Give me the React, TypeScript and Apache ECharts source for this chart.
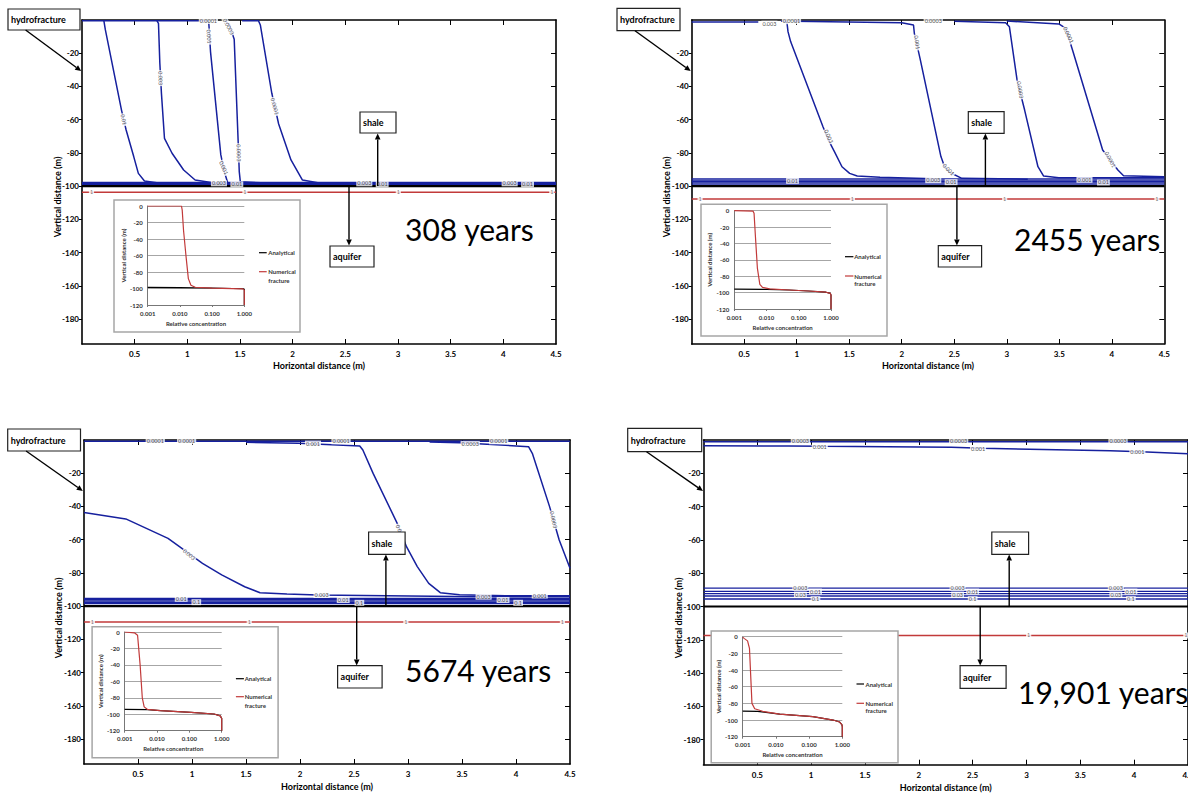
import React, { useEffect, useRef } from "react";
import * as echarts from "echarts";

type Pt = [number, number];
type Lbl = [string, number, number, number];

const FONT = 'Lato, "Open Sans", "DejaVu Sans", sans-serif';
const BLUE = "#16209e";
const RED = "#c23a3a";

// ---------- axis ticks ----------
const xTickValues = [0.5, 1, 1.5, 2, 2.5, 3, 3.5, 4];
const xLabelValues = [0.5, 1, 1.5, 2, 2.5, 3, 3.5, 4, 4.5];
const yTickValues = [-20, -40, -60, -80, -100, -120, -140, -160, -180];
const yearLabels = ["308 years", "2455 years", "5674 years", "19,901 years"];
const interfaceDepth = -100;

// ---------- panel 1 (308 years) ----------
const p1Contours: Pt[][] = [
  [[0, -0.4], [0.2075, -0.4], [0.222, -6], [0.375, -54.2], [0.419, -66.2], [0.491, -82.2], [0.535, -92.3], [0.593, -96.9], [0.71, -98], [1.04, -98.3]],
  [[0.2075, -0.4], [0.71, -0.4], [0.726, -2], [0.739, -26], [0.754, -44], [0.783, -71.2], [0.855, -80.2], [0.965, -90.3], [1.074, -96.3], [1.256, -98.1], [1.6, -98.4]],
  [[0.71, -0.4], [1.201, -0.4], [1.205, -3], [1.22, -19], [1.318, -81.2], [1.35, -91], [1.383, -97.9], [1.7, -98.4]],
  [[1.36, -0.4], [1.4, -3], [1.445, -11.6], [1.482, -72.2], [1.493, -91.3], [1.503, -97.3], [1.7, -98]],
  [[1.52, -0.4], [1.675, -0.4], [1.693, -3], [1.802, -44.1], [1.867, -62.6], [1.984, -84.2], [2.093, -96.3], [2.239, -97.9], [4.5, -98.2]],
];
const p1BandLevels = [-97.8, -98.4, -99, -99.5];
const p1RedDepth = -103.7;
const p1RedLabelX = [0.09, 1.547, 3.003, 4.46];
const p1Labels: Lbl[] = [
  ["0.01", 0.395, -60, -77], ["0.003", 0.745, -35, -88],
  ["0.001", 1.205, -10, -86], ["0.001", 1.345, -89, -66],
  ["0.0003", 1.39, -4, -62], ["0.0003", 1.488, -80, -89],
  ["0.0001", 1.83, -52, -75], ["0.0001", 1.2, -0.6, 0],
  ["0.003", 1.30, -98.3, 0], ["0.01", 1.47, -98.9, 0],
  ["0.003", 2.68, -98.3, 0], ["0.01", 2.85, -98.9, 0],
  ["0.003", 4.06, -98.3, 0], ["0.01", 4.23, -98.9, 0],
];
const p1Numerical: Pt[] = [[0.001, 0], [0.0112, 0], [0.0118, -5], [0.013, -30], [0.0155, -61], [0.0183, -88], [0.022, -96], [0.03, -98.5], [0.1, -99.5], [0.9, -100.5], [1, -102], [1, -120]];
const p1Analytical: Pt[] = [[0.001, -98.6], [0.01, -99], [0.1, -99.4], [0.9, -100.3], [1, -101], [1, -120]];

// ---------- panel 2 (2455 years) ----------
const p2Contours: Pt[][] = [
  [[0, -1.2], [0.634, -1.2]],
  [[0.85, -0.6], [0.906, -1], [0.917, -7], [0.942, -13], [1.25, -64.2], [1.3, -72], [1.359, -79.2], [1.431, -88.3], [1.504, -92.3], [1.576, -93.9], [1.793, -94.7], [2.3, -95.5]],
  [[0.97, -0.8], [2.0, -1.6], [2.112, -3], [2.12, -8], [2.174, -23.1], [2.373, -82.2], [2.402, -87.3], [2.45, -91.5], [2.572, -95.3], [3.2, -95.8]],
  [[2.5, -0.8], [2.989, -1.6], [3.025, -4], [3.098, -36.1], [3.17, -54.2], [3.297, -88.3], [3.351, -93.9], [3.496, -94.9], [4.5, -95]],
  [[3.0, -0.6], [3.496, -2.4], [3.562, -5], [3.634, -19.7], [3.913, -78.2], [4.058, -90.3], [4.112, -93.7], [4.5, -94.3]],
];
const p2BandLevels = [-95.6, -96.4, -97.2, -98, -98.8];
const p2RedDepth = -107.7;
const p2RedLabelX = [0.08, 1.53, 2.98, 4.43];
const p2Labels: Lbl[] = [
  ["0.003", 0.74, -2.2, 0], ["0.0001", 0.95, -0.7, 0],
  ["0.003", 1.304, -70, -66],
  ["0.001", 2.145, -13.5, -82], ["0.001", 2.446, -90, -45],
  ["0.0003", 2.3, -0.7, 0], ["0.0003", 3.127, -42, -80],
  ["0.0001", 3.587, -9, -65], ["0.0001", 3.986, -84, -62],
  ["0.01", 0.96, -96.8, 0],
  ["0.003", 2.30, -96.4, 0], ["0.01", 2.47, -97.6, 0],
  ["0.001", 3.74, -96.2, 0], ["0.01", 3.92, -97.8, 0],
];
const p2Numerical: Pt[] = [[0.001, 0], [0.0038, -0.5], [0.0041, -3], [0.0045, -30], [0.0052, -70], [0.0062, -90], [0.0075, -93.5], [0.0125, -95.5], [0.05, -96.8], [0.2, -98], [0.7, -99.5], [0.95, -101], [1, -103], [1, -120]];
const p2Analytical: Pt[] = [[0.001, -95.8], [0.01, -96], [0.05, -96.8], [0.2, -98], [0.7, -99.5], [0.95, -101], [1, -103], [1, -120]];

// ---------- panel 3 (5674 years) ----------
const p3Contours: Pt[][] = [
  [[0, -0.7], [4.5, -0.7]],
  [[1.5, -1.4], [1.985, -2], [2.553, -3.6], [2.582, -6], [2.677, -20.1], [2.908, -51.2], [2.986, -64.2], [3.086, -76.2], [3.192, -86.3], [3.299, -91.9], [3.477, -93.1], [3.903, -93.7], [4.5, -93.8]],
  [[3.2, -1.2], [3.477, -1.6], [4.116, -4], [4.151, -8], [4.311, -40.1], [4.4, -60.2], [4.5, -77.2]],
  [[0, -43.7], [0.387, -47.5], [0.778, -59.2], [0.884, -64.2], [1.097, -74.2], [1.275, -81.2], [1.488, -88.3], [1.63, -91.9], [1.879, -92.7], [2.163, -93.3], [3.654, -94.3], [4.5, -94.4]],
];
const p3BandLevels = [-95.3, -96.1, -96.9, -97.7, -98.4];
const p3RedDepth = -109.5;
const p3RedLabelX = [0.078, 1.53, 2.98, 4.43];
const p3Labels: Lbl[] = [
  ["0.0001", 0.66, -0.8, 0], ["0.0001", 0.95, -0.8, 0], ["0.0001", 2.38, -0.8, 0], ["0.0001", 3.84, -0.8, 0],
  ["0.001", 2.12, -2.2, 0], ["0.001", 2.926, -55, -68], ["0.001", 4.22, -93.6, 0],
  ["0.0003", 3.576, -2.4, 0], ["0.0003", 4.347, -48, -78],
  ["0.003", 0.973, -69, -40], ["0.003", 2.2, -93.3, 0], ["0.003", 3.70, -94.3, 0],
  ["0.01", 0.90, -95.6, 0], ["0.1", 1.04, -97.6, 0],
  ["0.01", 2.40, -96.3, 0], ["0.1", 2.55, -98, 0],
  ["0.01", 3.88, -96.3, 0], ["0.1", 4.02, -98, 0],
];
const p3Numerical: Pt[] = [[0.001, 0], [0.002, -1], [0.0025, -4], [0.003, -40], [0.0035, -80], [0.004, -91], [0.005, -94], [0.0127, -95.6], [0.113, -97.7], [0.58, -99.7], [0.9, -102], [1, -105], [1, -120]];
const p3Analytical: Pt[] = [[0.001, -94], [0.005, -94.4], [0.0127, -95.6], [0.113, -97.7], [0.58, -99.7], [0.9, -102], [1, -105], [1, -120]];

// ---------- panel 4 (19,901 years) ----------
const p4Contours: Pt[][] = [
  [[0, -1], [4.5, -1]],
  [[0, -3.4], [0.791, -3.6], [1.115, -3.8], [2.302, -4.4], [2.59, -5], [3.777, -6.4], [4.065, -7], [4.5, -8.2]],
];
const p4BandLevels = [-88.9, -90.9, -92.3, -93.7, -95.5];
const p4RedDepth = -117.4;
const p4RedLabelX = [1.55, 3.02, 4.48];
const p4Labels: Lbl[] = [
  ["0.0003", 0.90, -0.9, 0], ["0.0003", 2.37, -0.9, 0], ["0.0003", 3.85, -0.9, 0],
  ["0.001", 1.08, -4.2, 0], ["0.001", 2.55, -5.2, 0], ["0.001", 4.03, -7.2, 0],
  ["0.003", 0.90, -88.6, 0], ["0.01", 1.04, -91, 0], ["0.03", 0.90, -92.8, 0], ["0.1", 1.04, -95.6, 0],
  ["0.003", 2.36, -88.6, 0], ["0.01", 2.50, -91, 0], ["0.03", 2.36, -92.8, 0], ["0.1", 2.50, -95.6, 0],
  ["0.003", 3.83, -88.6, 0], ["0.01", 3.97, -91, 0], ["0.03", 3.83, -92.8, 0], ["0.1", 3.97, -95.6, 0],
];
const p4Numerical: Pt[] = [[0.001, -0.5], [0.0011, -2], [0.0014, -5], [0.0016, -14], [0.0019, -80], [0.0023, -86.5], [0.004, -89.5], [0.013, -92.8], [0.13, -96], [0.53, -100], [0.83, -102.4], [0.97, -105.5], [1, -108], [1, -120]];
const p4Analytical: Pt[] = [[0.001, -89.2], [0.0028, -89.6], [0.013, -92.8], [0.13, -96], [0.53, -100], [0.83, -102.4], [0.97, -105.5], [1, -108], [1, -120]];

const panels = [
  { contours: p1Contours, bands: p1BandLevels, red: p1RedDepth, redLabels: p1RedLabelX, labels: p1Labels, num: p1Numerical, ana: p1Analytical },
  { contours: p2Contours, bands: p2BandLevels, red: p2RedDepth, redLabels: p2RedLabelX, labels: p2Labels, num: p2Numerical, ana: p2Analytical },
  { contours: p3Contours, bands: p3BandLevels, red: p3RedDepth, redLabels: p3RedLabelX, labels: p3Labels, num: p3Numerical, ana: p3Analytical },
  { contours: p4Contours, bands: p4BandLevels, red: p4RedDepth, redLabels: p4RedLabelX, labels: p4Labels, num: p4Numerical, ana: p4Analytical },
];

// ---------- layout (pixels) ----------
const layout = [
  { main: [82, 20, 474, 324], inset: [147.7, 206, 96.6, 99], box: [114, 200, 186, 132], xGap: 17,
    hydro: [8, 9, 72, 21], hydroArrow: [25.6, 30, 81.2, 71],
    shale: [360, 112, 36, 21], shaleArrow: [377.7, 186, 133.5],
    aquifer: [330, 246, 44, 21], aquiferArrow: [349, 187, 245.5],
    years: [405, 228.5], yTitle: [57.5, 197], legend: [259, 266.7, 268.3, 252.7, 271.7, 280] },
  { main: [691.7, 20, 472.6, 324], inset: [734.3, 210.7, 96.7, 98.3], box: [701, 204.3, 186, 131.7], xGap: 17,
    hydro: [617, 8.3, 63, 22.4], hydroArrow: [635, 30.7, 690.7, 71],
    shale: [968.3, 111.7, 35.8, 21.6], shaleArrow: [985.4, 186, 133.5],
    aquifer: [938.3, 245.7, 43.3, 21.3], aquiferArrow: [956.9, 187, 245.5],
    years: [1014, 238.5], yTitle: [666.5, 197], legend: [845, 853.4, 854.2, 256.7, 276, 283.7] },
  { main: [84, 440, 486, 324], inset: [124.7, 632, 97, 98.7], box: [92.1, 626.7, 186, 131], xGap: 18,
    hydro: [7.7, 429, 72.8, 22], hydroArrow: [26.1, 451, 82.8, 491],
    shale: [368.6, 532, 36.5, 22.3], shaleArrow: [385.9, 606, 554.5],
    aquifer: [337.6, 665.7, 44.5, 22.3], aquiferArrow: [356.7, 607, 665.5],
    years: [405.1, 670], yTitle: [58.7, 618], legend: [235.9, 243.9, 244.7, 678.7, 696.7, 705.7] },
  { main: [703.5, 440, 484.5, 324.7], inset: [742.7, 636.7, 99.6, 100], box: [711.2, 631, 186.8, 131.7], xGap: 18,
    hydro: [627.7, 428.3, 74, 23.4], hydroArrow: [646.5, 451.7, 703, 491],
    shale: [991.8, 532, 36.8, 22.3], shaleArrow: [1009.2, 606, 554.5],
    aquifer: [960.1, 665.7, 46, 22.6], aquiferArrow: [980.2, 607, 665.5],
    years: [1018, 692], yTitle: [678, 618], legend: [856.5, 864, 865.5, 684, 703.3, 710.7] },
];

function arrow(x1: number, y1: number, x2: number, y2: number, z: number) {
  const ang = Math.atan2(y2 - y1, x2 - x1);
  const len = 6, hw = 2.8;
  const bx = x2 - len * Math.cos(ang), by = y2 - len * Math.sin(ang);
  const px = -Math.sin(ang) * hw, py = Math.cos(ang) * hw;
  return [
    { type: "line", z, shape: { x1, y1, x2: bx, y2: by }, style: { stroke: "#000", lineWidth: 1.4 } },
    { type: "polygon", z, shape: { points: [[x2, y2], [bx + px, by + py], [bx - px, by - py]] }, style: { fill: "#000" } },
  ];
}

function labelBox(r: number[], text: string, z: number) {
  const [x, y, w, h] = r;
  return [
    { type: "rect", z, shape: { x, y, width: w, height: h }, style: { fill: "#fff", stroke: "#222", lineWidth: 1.2 } },
    { type: "text", z: z + 1, x: x + 3, y: y + h / 2, style: { text, fill: "#000", fontSize: 9, fontWeight: "bold", fontFamily: FONT, align: "left", verticalAlign: "middle" } },
  ];
}

function buildOption() {
  const grid: any[] = [], xAxis: any[] = [], yAxis: any[] = [], series: any[] = [], graphic: any[] = [];
  const tickFont = { fontSize: 8, fontWeight: "bold", fontFamily: FONT, color: "#000" };
  const insetFont = { fontSize: 6, fontWeight: "bold", fontFamily: FONT, color: "#333" };

  panels.forEach((p, i) => {
    const L = layout[i];
    const mg = 2 * i, ig = 2 * i + 1;
    grid.push({ left: L.main[0], top: L.main[1], width: L.main[2], height: L.main[3], containLabel: false, outerBoundsMode: "none" });
    grid.push({ left: L.inset[0], top: L.inset[1], width: L.inset[2], height: L.inset[3], containLabel: false, outerBoundsMode: "none", z: 25 });
    const frame = { onZero: false, lineStyle: { color: "#000", width: 1.6 } };

    xAxis.push({
      type: "value", gridIndex: mg, position: "bottom", min: 0, max: 4.5,
      name: "Horizontal distance (m)", nameLocation: "middle", nameGap: L.xGap,
      nameTextStyle: { fontSize: 9, fontWeight: "bold", fontFamily: FONT, color: "#000" },
      axisLine: frame,
      axisTick: { inside: true, length: 5, customValues: xTickValues, lineStyle: { color: "#000", width: 1 } },
      axisLabel: { customValues: xLabelValues, margin: 6, ...tickFont },
      splitLine: { show: false },
    });
    xAxis.push({
      type: "value", gridIndex: mg, position: "top", min: 0, max: 4.5,
      axisLine: frame,
      axisTick: { inside: true, length: 5, customValues: xTickValues, lineStyle: { color: "#000", width: 1 } },
      axisLabel: { show: false }, splitLine: { show: false },
    });
    xAxis.push({
      type: "log", logBase: 10, gridIndex: ig, min: 0.001, max: 1, z: 25,
      name: "Relative concentration", nameLocation: "middle", nameGap: 15, nameTextStyle: insetFont,
      axisLine: { onZero: false, lineStyle: { color: "#777", width: 1 } },
      axisTick: { show: true, length: 2, lineStyle: { color: "#777" } },
      axisLabel: { margin: 5, ...insetFont, formatter: (v: number) => v.toFixed(3) },
      splitLine: { show: false }, minorTick: { show: false },
    });

    yAxis.push({
      type: "value", gridIndex: mg, position: "left", min: -195, max: 0,
      axisLine: frame,
      axisTick: { inside: false, length: 3, customValues: yTickValues, lineStyle: { color: "#000", width: 1 } },
      axisLabel: { customValues: yTickValues, margin: 3, ...tickFont },
      splitLine: { show: false },
    });
    yAxis.push({
      type: "value", gridIndex: mg, position: "right", min: -195, max: 0,
      axisLine: frame,
      axisTick: { inside: true, length: 5, customValues: yTickValues, lineStyle: { color: "#000", width: 1 } },
      axisLabel: { show: false }, splitLine: { show: false },
    });
    yAxis.push({
      type: "value", gridIndex: ig, min: -120, max: 0, interval: 20, z: 25,
      name: "Vertical distance (m)", nameLocation: "middle", nameGap: 20, nameTextStyle: insetFont,
      axisLine: { onZero: false, lineStyle: { color: "#777", width: 1 } },
      axisTick: { show: false },
      axisLabel: { margin: 5, ...insetFont },
      splitLine: { show: true, lineStyle: { color: "#a6a6a6", width: 1.2 } },
    });

    const xi = 3 * i, yi = 3 * i;
    const base = { type: "line", xAxisIndex: xi, yAxisIndex: yi, showSymbol: false, symbol: "none", silent: true };
    p.contours.forEach((c) => {
      series.push({ ...base, data: c, z: 2, lineStyle: { color: BLUE, width: 1.5 } });
    });
    p.bands.forEach((lvl) => {
      series.push({ ...base, data: [[0, lvl], [4.5, lvl]], z: 2, lineStyle: { color: BLUE, width: 1.3 } });
    });
    series.push({ ...base, data: [[0, p.red], [4.5, p.red]], z: 2, lineStyle: { color: RED, width: 1.5 } });
    series.push({ ...base, data: [[0, interfaceDepth], [4.5, interfaceDepth]], z: 3, lineStyle: { color: "#000", width: 2.2 } });

    const lblStyle = { show: true, position: "inside", formatter: "{b}", fontSize: 5.5, fontFamily: FONT, color: "#222", backgroundColor: "#fff", padding: [0, 1] };
    series.push({
      type: "scatter", xAxisIndex: xi, yAxisIndex: yi, symbolSize: 1, silent: true, z: 4,
      itemStyle: { color: "rgba(0,0,0,0)" }, label: lblStyle,
      data: p.labels.map(([t, x, y, r]) => ({ value: [x, y], name: t, label: { rotate: r } })),
    });
    series.push({
      type: "scatter", xAxisIndex: xi, yAxisIndex: yi, symbolSize: 1, silent: true, z: 4,
      itemStyle: { color: "rgba(0,0,0,0)" }, label: { ...lblStyle, color: "#555" },
      data: p.redLabels.map((x) => ({ value: [x, p.red], name: "1" })),
    });

    const ib = { type: "line", xAxisIndex: 3 * i + 2, yAxisIndex: 3 * i + 2, showSymbol: false, symbol: "none", silent: true };
    series.push({ ...ib, name: "Analytical", data: p.ana, z: 26, lineStyle: { color: "#000", width: 1.2 } });
    series.push({ ...ib, name: "Numerical fracture", data: p.num, z: 27, lineStyle: { color: RED, width: 1.2 } });

    const [bx, by, bw, bh] = L.box;
    graphic.push({ type: "rect", z: 20, shape: { x: bx, y: by, width: bw, height: bh }, style: { fill: "#fff", stroke: "#a6a6a6", lineWidth: 1.5 } });
    const lg = L.legend;
    const legFont = { fontSize: 6, fontWeight: "bold", fontFamily: FONT, fill: "#333", align: "left", verticalAlign: "middle" };
    graphic.push({ type: "line", z: 30, shape: { x1: lg[0], y1: lg[3], x2: lg[1], y2: lg[3] }, style: { stroke: "#000", lineWidth: 1.2 } });
    graphic.push({ type: "text", z: 30, x: lg[2], y: lg[3], style: { text: "Analytical", ...legFont } });
    graphic.push({ type: "line", z: 30, shape: { x1: lg[0], y1: lg[4], x2: lg[1], y2: lg[4] }, style: { stroke: RED, lineWidth: 1.2 } });
    graphic.push({ type: "text", z: 30, x: lg[2], y: lg[4], style: { text: "Numerical", ...legFont } });
    graphic.push({ type: "text", z: 30, x: lg[2], y: lg[5], style: { text: "fracture", ...legFont } });

    graphic.push(...labelBox(L.hydro, "hydrofracture", 40));
    graphic.push(...labelBox(L.shale, "shale", 40));
    graphic.push(...labelBox(L.aquifer, "aquifer", 40));
    const ha = L.hydroArrow;
    graphic.push(...arrow(ha[0], ha[1], ha[2], ha[3], 40));
    const sa = L.shaleArrow;
    graphic.push(...arrow(sa[0], sa[1], sa[0], sa[2], 40));
    const aa = L.aquiferArrow;
    graphic.push(...arrow(aa[0], aa[1], aa[0], aa[2], 40));

    graphic.push({ type: "text", z: 40, x: L.years[0], y: L.years[1], style: { text: yearLabels[i], fontSize: 30, fontFamily: FONT, fill: "#000", align: "left", verticalAlign: "middle" } });
    graphic.push({ type: "text", z: 40, x: L.yTitle[0], y: L.yTitle[1], rotation: Math.PI / 2, style: { text: "Vertical distance (m)", fontSize: 9, fontWeight: "bold", fontFamily: FONT, fill: "#000", align: "center", verticalAlign: "middle" } });
  });

  return {
    animation: false,
    backgroundColor: "#fff",
    textStyle: { fontFamily: FONT },
    grid, xAxis, yAxis, series, graphic,
  };
}

export default function App() {
  const ref = useRef<HTMLDivElement>(null);
  useEffect(() => {
    if (!ref.current) return;
    const chart = echarts.init(ref.current, undefined, { renderer: "svg" });
    chart.setOption(buildOption() as any);
    return () => chart.dispose();
  }, []);
  return <div ref={ref} style={{ position: "absolute", left: 0, top: 0, width: 1188, height: 794 }} />;
}
